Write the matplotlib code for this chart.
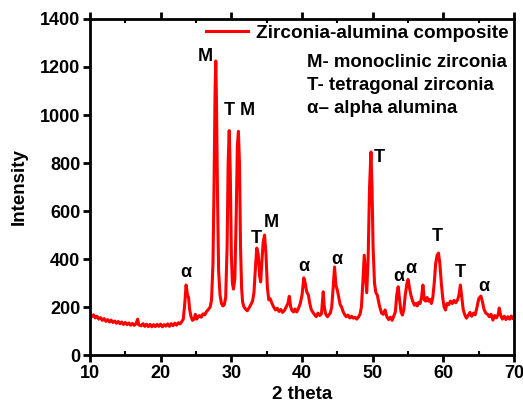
import matplotlib
matplotlib.use('Agg')
import matplotlib.pyplot as plt
from matplotlib.ticker import MultipleLocator

plt.rcParams['font.family'] = ['Liberation Sans', 'DejaVu Sans']
plt.rcParams['font.weight'] = 'bold'

# 2 theta / intensity
two_theta = [
    10.0, 10.25, 10.5, 10.75, 11.0, 11.25, 11.5, 11.75, 12.0, 12.25, 12.5, 12.75,
    13.0, 13.25, 13.5, 13.75, 14.0, 14.25, 14.5, 14.75, 15.0, 15.25, 15.5, 15.75,
    16.0, 16.25, 16.5, 16.75, 16.9, 17.25, 17.5, 17.75, 18.0, 18.25, 18.5, 18.75,
    19.0, 19.25, 19.5, 19.75, 20.0, 20.25, 20.5, 20.75, 21.0, 21.25, 21.5, 21.75,
    22.0, 22.25, 22.5, 22.75, 23.0, 23.2, 23.4, 23.6, 23.8, 23.95, 24.1, 24.3,
    24.5, 24.75, 24.9, 25.1, 25.3, 25.5, 25.75, 26.0, 26.25, 26.5, 26.75, 27.0,
    27.2, 27.4, 27.55, 27.7, 27.8, 27.9, 28.05, 28.2, 28.4, 28.6, 28.8, 29.0,
    29.2, 29.4, 29.55, 29.7, 29.85, 30.0, 30.15, 30.3, 30.5, 30.7, 30.85, 31.0,
    31.15, 31.3, 31.45, 31.6, 31.8, 32.0, 32.25, 32.5, 32.75, 33.0, 33.2, 33.4,
    33.6, 33.8, 34.0, 34.15, 34.3, 34.5, 34.7, 34.9, 35.1, 35.3, 35.5, 35.75,
    36.0, 36.25, 36.5, 36.75, 37.0, 37.25, 37.5, 37.75, 38.0, 38.2, 38.4, 38.6,
    38.8, 39.0, 39.25, 39.5, 39.75, 40.0, 40.25, 40.45, 40.65, 40.9, 41.1, 41.3,
    41.5, 41.75, 42.0, 42.25, 42.5, 42.75, 42.9, 43.0, 43.15, 43.35, 43.6, 43.8,
    44.0, 44.2, 44.4, 44.6, 44.8, 45.0, 45.2, 45.4, 45.6, 45.8, 46.0, 46.25,
    46.5, 46.75, 47.0, 47.25, 47.5, 47.75, 48.0, 48.2, 48.4, 48.6, 48.8, 49.0,
    49.15, 49.35, 49.55, 49.75, 49.9, 50.05, 50.25, 50.45, 50.65, 50.85, 51.0, 51.25,
    51.5, 51.75, 52.0, 52.25, 52.5, 52.75, 53.0, 53.2, 53.4, 53.6, 53.8, 54.0,
    54.2, 54.4, 54.6, 54.85, 55.0, 55.2, 55.4, 55.65, 55.9, 56.1, 56.3, 56.5,
    56.7, 56.9, 57.1, 57.3, 57.5, 57.7, 57.9, 58.1, 58.3, 58.5, 58.7, 58.9,
    59.1, 59.3, 59.5, 59.7, 59.9, 60.1, 60.3, 60.5, 60.75, 61.0, 61.25, 61.5,
    61.75, 62.0, 62.2, 62.4, 62.6, 62.8, 63.0, 63.25, 63.5, 63.75, 64.0, 64.25,
    64.5, 64.75, 65.0, 65.3, 65.5, 65.75, 66.0, 66.25, 66.5, 66.75, 67.0, 67.25,
    67.5, 67.75, 67.9, 68.1, 68.35, 68.6, 68.85, 69.1, 69.35, 69.6, 69.8, 70.0,
]
intensity = [
    172, 160, 168, 155, 162, 150, 156, 145, 152, 141, 148, 138,
    146, 136, 142, 133, 140, 131, 138, 128, 136, 127, 134, 125,
    132, 124, 130, 150, 126, 122, 131, 120, 129, 119, 128, 118,
    127, 119, 128, 120, 129, 118, 127, 121, 130, 120, 131, 123,
    133, 125, 135, 130, 140, 150, 210, 292, 250, 240, 190, 160,
    145, 150, 170, 150, 160, 165, 158, 172, 168, 182, 190, 200,
    230, 380, 700, 1100, 1225, 1050, 650, 350, 250, 215, 205, 210,
    240, 450, 800, 935, 760, 420, 300, 275, 320, 600, 870, 932,
    800, 450, 280, 220, 200, 192, 185, 196, 210, 225, 260, 360,
    446, 420, 330, 305, 380, 470, 500, 420, 280, 230, 235, 215,
    200, 188, 195, 182, 190, 178, 186, 200, 215, 245, 200, 185,
    180, 192, 180, 195, 215, 250, 322, 300, 265, 250, 215, 190,
    180, 170, 160, 175, 165, 172, 230, 264, 200, 170, 160, 168,
    175, 200, 280, 367, 290, 270, 240, 210, 200, 182, 170, 160,
    167, 155, 162, 154, 158, 150, 160, 170, 200, 300, 416, 330,
    260, 400, 700, 846, 700, 450, 300, 260, 250, 220, 200, 175,
    170, 188, 160, 148, 158, 145, 165, 180, 250, 285, 230, 180,
    167, 190, 250, 300, 315, 280, 250, 225, 208, 215, 205, 220,
    215, 240, 292, 230, 225, 240, 225, 232, 215, 240, 300, 380,
    415, 425, 380, 300, 240, 200, 188, 215, 210, 225, 215, 228,
    218, 230, 250, 292, 240, 190, 170, 154, 165, 178, 162, 175,
    168, 200, 235, 246, 225, 190, 175, 170, 160, 170, 146, 165,
    155, 170, 196, 165, 150, 162, 148, 160, 150, 163, 152, 160,
]

# peak labels: phase symbol, 2 theta, height
peak_labels = ['α', 'M', 'T', 'M', 'T', 'M', 'α', 'α', 'T', 'α', 'α', 'T', 'T', 'α']
peak_x = [23.6, 26.3, 29.7, 32.2, 33.5, 35.6, 40.3, 44.9, 51.0, 53.7, 55.4, 59.2, 62.4, 65.7]
peak_y = [346, 1242, 1020, 1020, 487, 554, 371, 400, 821, 329, 362, 496, 346, 287]

phase_key = ['M- monoclinic zirconia', 'T- tetragonal zirconia', 'α– alpha alumina']

fig = plt.figure(figsize=(5.23, 4.12), dpi=100)
ax = fig.add_axes([0.172, 0.138, 0.811, 0.816])

ax.plot(two_theta, intensity, color='#ff0000', lw=2.2, label='Zirconia-alumina composite')

for s, px, py in zip(peak_labels, peak_x, peak_y):
    ax.text(px, py, s, ha='center', va='center', fontsize=13, fontweight='bold')

for i, line in enumerate(phase_key):
    ax.text(0.512, 0.871 - i * 0.069, line, transform=ax.transAxes,
            ha='left', va='center', fontsize=13.4, fontweight='bold')

ax.set_xlim(10, 70)
ax.set_ylim(0, 1400)
ax.xaxis.set_major_locator(MultipleLocator(10))
ax.xaxis.set_minor_locator(MultipleLocator(5))
ax.yaxis.set_major_locator(MultipleLocator(200))
ax.set_xlabel('2 theta', fontsize=13.5, fontweight='bold', labelpad=3)
ax.set_ylabel('Intensity', fontsize=13.5, fontweight='bold', labelpad=9)

for sp in ax.spines.values():
    sp.set_linewidth(2)
ax.tick_params(which='major', direction='out', length=5, width=2, labelsize=13, pad=2)
ax.tick_params(which='minor', direction='in', length=3, width=1.5)
ax.tick_params(which='both', top=True, right=False)
for lab in ax.get_xticklabels() + ax.get_yticklabels():
    lab.set_fontweight('bold')

ax.legend(loc='upper right', frameon=False, fontsize=13.7, handlelength=2.2,
          handletextpad=0.4, borderaxespad=0.1, borderpad=0.2)

plt.savefig('out.png', dpi=100)
